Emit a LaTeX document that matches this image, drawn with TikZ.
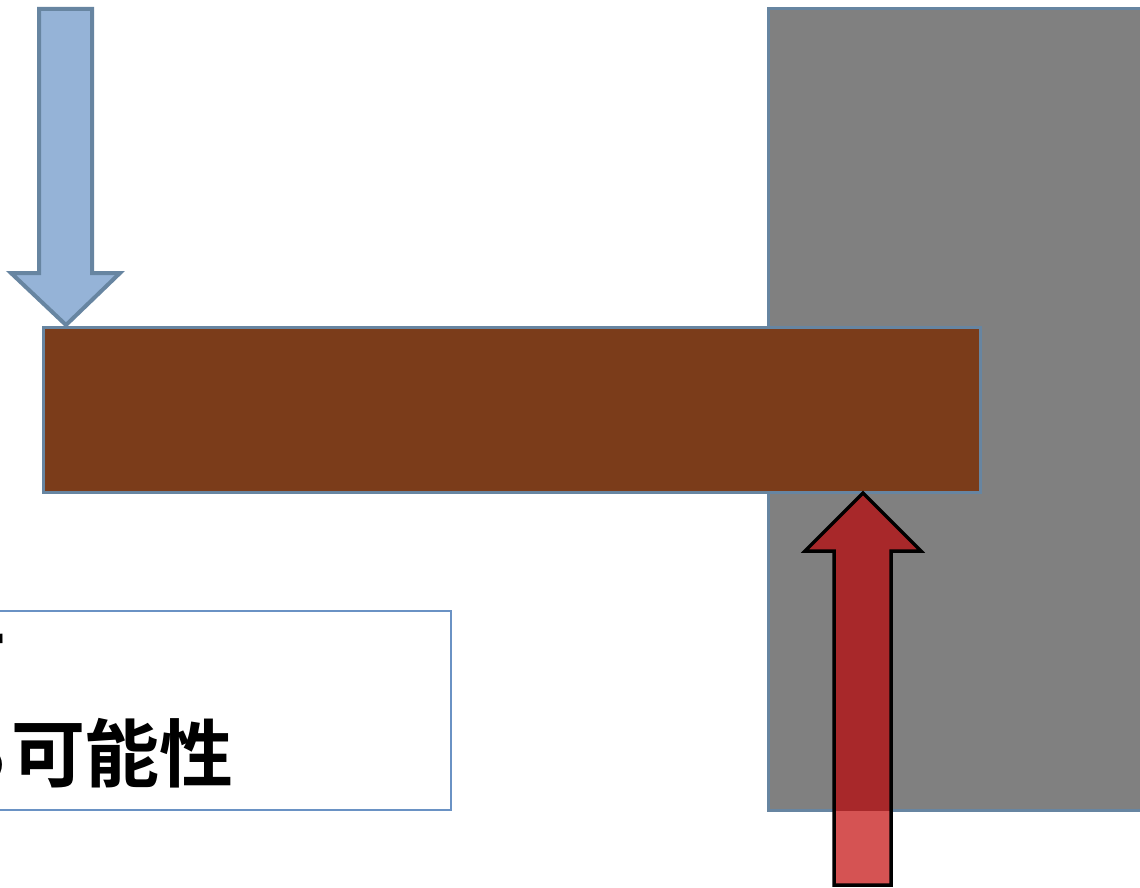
\documentclass[tikz,border=0pt]{standalone}
\usepackage{fontspec}
\newfontfamily\cjkb{Noto Sans CJK JP Bold}
\definecolor{edgeblue}{HTML}{6785A1}
\definecolor{arrowblue}{HTML}{95B3D7}
\definecolor{beambrown}{HTML}{7B3C1A}
\definecolor{wallgray}{HTML}{808080}
\definecolor{boxblue}{HTML}{6A92C4}
\definecolor{reddark}{HTML}{A8282A}
\definecolor{redlight}{HTML}{D55353}
\tikzset{
  rectbox/.style={anchor=north west, inner sep=0pt, outer sep=0pt, line join=miter},
  wallbox/.style={rectbox, draw=edgeblue, fill=wallgray, line width=3pt},
  beambox/.style={rectbox, draw=edgeblue, fill=beambrown, line width=3pt},
  textframe/.style={rectbox, draw=boxblue, fill=white, line width=1.5pt},
  bluearrow/.style={draw=edgeblue, fill=arrowblue, line width=4pt, line join=miter},
  redarrow/.style={draw=black, line width=3.5pt, line join=miter},
  bigtext/.style={font=\cjkb\fontsize{74}{88}\selectfont, inner sep=0pt, outer sep=0pt, text=black}
}
\begin{document}
\begin{tikzpicture}[x=1pt,y=-1pt]
\useasboundingbox (0,0) rectangle (1140,888);
\clip (0,0) rectangle (1140,888);
\fill[white] (0,0) rectangle (1140,888);
% wall
\node[wallbox, minimum width=400pt, minimum height=801pt] (wall) at (768,9) {};
% beam
\node[beambox, minimum width=937pt, minimum height=165pt] (beam) at (43,327) {};
% blue load arrow
\draw[bluearrow] (39,9) -- (92,9) -- (92,273) -- (120,273) -- (66,325) -- (11,273) -- (39,273) -- cycle;
% red reaction arrow
\fill[reddark] (834,885) -- (834,551) -- (805,551) -- (863,493) -- (921,551) -- (891,551) -- (891,885) -- cycle;
\fill[redlight] (834,811) rectangle (891,885);
\draw[redarrow] (834,885) -- (834,551) -- (805,551) -- (863,493) -- (921,551) -- (891,551) -- (891,885) -- cycle;
% text box
\node[textframe, minimum width=551pt, minimum height=199pt] (tbox) at (-100,611) {};
\node[bigtext, anchor=east] (line1) at (12,663) {て};
\node[bigtext, anchor=east] (line2) at (234,753) {る可能性};
\end{tikzpicture}
\end{document}
